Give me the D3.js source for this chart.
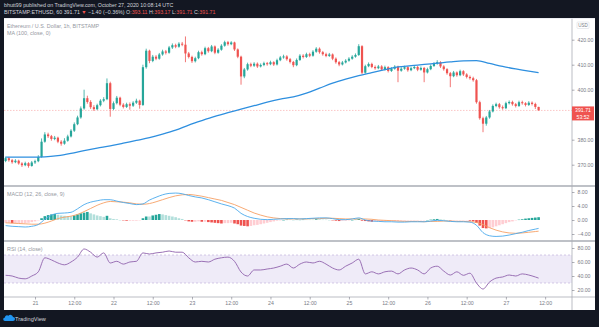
<!DOCTYPE html>
<html><head><meta charset="utf-8">
<script src="https://cdn.jsdelivr.net/npm/d3@7"></script>
<style>
html,body{margin:0;padding:0;background:#131722;}
svg{display:block;}
text{font-family:"Liberation Sans",Arial,sans-serif;}
</style></head><body>
<svg id="chart" width="599" height="327"></svg>
<script>
// ETH/USD, Bitstamp, 1h candles from 20 Oct 15:00 UTC to 27 Oct 10:00 UTC
const firstOpen = 371.5;
const closes = [
 372.6,371.8,371.0,371.6,370.5,369.8,370.6,369.5,370.9,371.4,
 373.1,379.2,382.1,381.4,380.3,380.8,379.2,378.4,379.6,381.3,
 383.6,386.2,388.9,392.5,396.6,395.1,393.0,392.2,393.8,395.6,
 396.2,402.6,392.3,394.6,396.8,394.0,393.1,394.2,393.6,394.8,
 395.6,393.9,409.0,415.6,411.5,413.2,412.4,414.1,415.3,414.8,
 416.9,417.8,417.2,418.4,418.0,414.5,413.1,411.4,412.6,415.0,
 414.2,416.6,415.4,417.3,414.8,416.0,417.6,419.0,418.2,418.9,
 416.1,413.2,405.3,408.1,410.2,409.6,410.4,409.3,409.9,410.6,
 410.2,411.0,410.1,411.8,412.9,413.3,412.2,411.1,409.8,411.9,
 413.6,413.1,414.2,413.6,415.2,416.4,415.0,414.2,413.5,414.1,
 412.4,411.0,410.1,410.9,411.6,412.4,413.2,413.9,417.4,406.8,
 409.4,410.3,409.1,408.6,409.3,408.1,409.0,407.5,408.4,409.2,
 407.6,408.4,409.0,407.8,408.6,409.1,408.0,408.7,406.9,408.2,
 409.5,410.4,411.0,409.3,408.2,406.6,405.4,406.9,405.8,407.4,
 406.1,405.1,404.6,403.8,395.0,388.6,386.4,388.9,391.3,393.5,
 394.2,393.0,392.6,394.6,395.1,394.2,393.5,395.0,394.6,393.9,
 394.8,394.3,393.11,391.71];
const highs = [
 373.2,373.1,372.3,372.2,372.0,371.0,371.2,371.0,371.5,372.0,
 373.8,380.5,383.0,382.8,381.9,381.5,381.2,379.8,380.6,382.0,
 384.2,386.9,389.6,393.3,400.0,397.6,395.8,393.8,394.4,396.2,
 397.0,404.5,403.2,395.3,397.5,397.2,394.6,394.8,394.9,395.4,
 396.4,396.0,410.0,416.4,416.0,413.9,413.8,414.7,416.0,415.9,
 417.5,418.5,418.4,419.0,419.1,421.3,415.1,413.6,413.2,415.6,
 415.6,417.2,417.1,417.9,417.7,416.6,418.2,419.6,419.5,419.4,
 419.2,416.5,413.6,408.7,410.8,410.8,411.0,410.9,410.5,411.2,
 411.1,411.6,411.4,412.4,413.5,414.0,413.8,412.7,411.5,412.5,
 414.2,414.2,414.8,414.8,415.8,417.0,416.9,415.5,414.8,414.7,
 414.5,412.9,411.5,411.5,412.2,413.0,413.8,414.5,418.2,417.8,
 410.0,410.9,410.8,409.7,409.9,409.8,409.6,409.4,409.0,409.8,
 409.6,409.0,409.6,409.4,409.2,409.7,409.5,409.3,409.1,408.8,
 410.1,411.0,411.8,411.4,409.8,408.6,407.1,407.5,407.3,408.0,
 407.8,406.6,405.7,405.2,404.3,395.6,389.2,389.5,391.9,394.1,
 394.8,394.7,393.7,395.2,395.7,395.6,394.7,395.6,395.6,395.0,
 395.4,395.3,394.8,393.17];
const lows = [
 371.0,371.2,370.4,370.6,370.0,369.1,369.4,368.8,369.2,370.3,
 371.0,372.8,378.8,380.7,379.6,379.8,378.6,377.6,378.0,379.2,
 380.9,383.1,385.8,388.4,392.0,394.4,392.3,391.5,391.8,393.3,
 395.0,395.8,389.2,391.8,394.1,393.4,392.5,392.7,392.0,393.1,
 394.3,392.4,393.5,408.4,410.6,411.0,411.8,412.0,413.6,414.1,
 414.4,416.3,416.6,416.8,417.4,411.0,412.5,410.7,410.9,412.2,
 413.6,413.8,414.8,415.0,414.2,414.4,415.6,417.2,417.6,417.8,
 415.5,412.6,402.0,404.6,407.6,409.0,409.1,408.7,408.9,409.4,
 409.6,409.8,409.5,409.7,411.4,412.4,411.6,410.5,409.0,409.4,
 411.5,412.5,412.7,413.0,413.2,414.8,414.4,413.6,413.0,413.1,
 411.8,410.4,409.4,409.7,410.5,411.2,412.0,412.8,413.5,406.2,
 406.4,409.0,408.6,408.0,408.2,407.6,407.7,406.9,407.1,408.0,
 403.0,407.2,408.0,407.2,407.4,408.2,407.4,407.6,403.0,406.5,
 407.8,409.1,410.0,408.7,407.6,406.0,401.0,405.0,405.2,405.4,
 405.5,404.5,404.0,403.2,394.4,388.0,383.0,385.6,388.4,390.9,
 393.0,392.4,392.0,392.2,394.1,393.6,392.9,393.1,394.0,393.3,
 393.5,393.7,392.3,391.71];

// MA(100) sampled every 4th candle, plus the last candle
const maValues = [373.0,373.0,373.0,373.1,373.6,374.5,375.6,376.6,377.5,378.6,
 379.7,380.8,382.2,383.8,385.8,387.6,389.3,390.8,392.2,393.6,
 395.0,396.2,397.1,398.6,400.6,402.6,404.2,405.6,406.8,408.0,
 409.1,409.6,410.1,410.6,411.1,411.5,411.6,410.5,409.3,408.3,
 407.4,406.8];

// MACD / signal / RSI sampled every 2nd candle, plus the last candle
const macdValues = [
 -1.6,-1.8,-1.9,-2.0,-1.8,-1.3,0.2,1.4,1.9,2.0,
 2.2,3.2,4.4,5.1,5.5,5.8,5.8,5.4,5.0,4.7,
 4.4,4.6,5.7,6.5,7.2,7.6,7.7,7.5,7.0,6.6,
 6.3,5.8,5.2,4.6,4.1,3.4,1.9,1.0,0.5,0.2,
 0.1,0.2,0.3,0.4,0.4,0.3,0.4,0.5,0.6,0.6,
 0.4,0.1,0.1,0.3,0.6,0.0,-0.3,-0.4,-0.5,-0.5,
 -0.6,-0.6,-0.5,-0.5,-0.5,-0.3,-0.1,-0.2,-0.4,-0.5,
 -0.5,-0.6,-1.5,-3.6,-4.5,-4.7,-4.6,-4.3,-3.9,-3.5,
 -3.0,-2.6,-2.4];
const signalValues = [
 -0.8,-0.9,-1.0,-1.1,-1.2,-1.2,-0.9,-0.3,0.4,0.8,
 1.1,1.6,2.4,3.3,4.2,4.9,5.3,5.2,5.1,4.9,
 4.6,4.5,4.7,5.2,5.8,6.4,6.9,7.2,7.3,7.1,
 6.8,6.4,6.0,5.6,5.0,4.4,3.6,2.8,2.0,1.4,
 0.9,0.6,0.4,0.3,0.3,0.3,0.3,0.4,0.4,0.5,
 0.5,0.4,0.3,0.3,0.3,0.3,0.2,0.0,-0.1,-0.2,
 -0.3,-0.4,-0.4,-0.4,-0.5,-0.4,-0.4,-0.3,-0.3,-0.4,
 -0.4,-0.5,-0.7,-1.3,-2.2,-2.9,-3.4,-3.7,-3.8,-3.7,
 -3.5,-3.3,-3.2];
const rsiValues = [
 41,40,37,36,40,46,66,63,58.6,56,
 60,67,78.6,74,67,73,58.6,61,57,60,
 61,73,71.4,73,74,75.7,74,74,66,60,
 61,60,64,66,67,61,45.7,40,48.6,48.6,
 50,51.4,54,57,51.4,57,60,58.6,61,57,
 51.4,48.6,54,58.6,64,43,46,43,46,47,
 43,48.6,51.4,48.6,43,51.4,54,47,41.4,46,
 41,44,30,21.4,31.4,37,38.6,41.4,40,43,
 41.4,38.6,37];

// MACD histogram, one bar per candle
const histValues = [
 -0.8,-0.8,-0.9,-0.9,-0.9,-0.9,-0.9,-0.8,-0.6,-0.4,
 -0.1,0.5,1.1,1.4,1.6,1.7,1.5,1.3,1.2,1.1,
 1.1,1.3,1.6,1.9,2.1,2.3,1.9,1.6,1.3,1.1,
 0.9,1.2,0.5,0.3,0.2,0.0,-0.1,-0.2,-0.2,-0.2,
 -0.2,-0.1,0.5,1.0,1.0,1.3,1.5,1.7,1.6,1.4,
 1.2,1.0,0.8,0.5,0.3,-0.1,-0.4,-0.5,-0.5,-0.4,
 -0.5,-0.5,-0.6,-0.7,-0.8,-0.9,-1.0,-0.9,-0.9,-0.8,
 -1.0,-1.2,-1.6,-1.7,-1.8,-1.7,-1.5,-1.4,-1.2,-1.0,
 -0.8,-0.6,-0.4,-0.2,-0.1,0.0,0.1,0.1,0.0,0.1,
 0.0,0.1,0.1,0.1,0.1,0.2,0.2,0.1,0.1,0.0,
 -0.1,-0.2,-0.3,-0.2,-0.2,-0.1,0.0,0.1,0.3,-0.2,
 -0.3,-0.4,-0.5,-0.4,-0.4,-0.4,-0.4,-0.3,-0.3,-0.3,
 -0.3,-0.2,-0.2,-0.1,-0.1,-0.1,-0.1,-0.1,-0.1,0.0,
 0.1,0.2,0.3,0.2,0.1,0.0,-0.1,-0.1,-0.1,-0.1,
 -0.1,-0.1,-0.2,-0.4,-0.8,-1.6,-2.3,-2.4,-2.3,-2.1,
 -1.8,-1.5,-1.2,-0.9,-0.6,-0.4,-0.1,0.1,0.2,0.4,
 0.5,0.6,0.7,0.8];

const priceTicks = [420, 410, 400, 390, 380, 370];
const macdTicks = [8, 4, 0, -4];
const rsiTicks = [80, 60, 40, 20];
const timeTickLabels = ["21","12:00","22","12:00","23","12:00","24","12:00","25","12:00","26","12:00","27","12:00"];
const countdown = "53:52";

// ---------- layout ----------
const W = 599, H = 327;
const L = 4, R = 572, RR = 595;
const mainTop = 18.5, mainBot = 186, macdBot = 241, rsiBot = 297, footTop = 310;
const UP = "#26a69a", DOWN = "#ef5350";
const AX = "#787b86";

const svg = d3.select("#chart");
svg.append("rect").attr("width", W).attr("height", H).attr("fill", "#131722");
svg.append("rect").attr("x", L).attr("y", mainTop - 0.5).attr("width", RR - L).attr("height", footTop - mainTop + 0.5).attr("fill", "#fff");

const t0 = Date.UTC(2020, 9, 20, 15);
const times = closes.map((c, i) => d3.utcHour.offset(new Date(t0), i));
const opens = closes.map((c, i) => i === 0 ? firstOpen : closes[i - 1]);
const last = closes.length - 1;

const x = d3.scaleUtc().domain([times[0], times[last]]).range([5.6, 538.6]);
const yP = d3.scaleLinear().domain([370, 420]).range([164.7, 39.7]);
const yM = d3.scaleLinear().domain([-4, 8]).range([234, 192]);
const yR = d3.scaleLinear().domain([20, 80]).range([290, 248]);

const defs = svg.append("defs");
function clip(id, y0, y1) {
  defs.append("clipPath").attr("id", id).append("rect")
    .attr("x", L).attr("y", y0).attr("width", R - L).attr("height", y1 - y0);
  return svg.append("g").attr("clip-path", `url(#${id})`);
}
const gMain = clip("cMain", mainTop, mainBot - 0.5);
const gMacd = clip("cMacd", mainBot + 0.5, macdBot - 0.5);
const gRsi = clip("cRsi", macdBot + 0.5, rsiBot);

// ---------- main pane ----------
const lastClose = closes[last];
gMain.append("line").attr("x1", L).attr("x2", R)
  .attr("y1", yP(lastClose)).attr("y2", yP(lastClose))
  .attr("stroke", DOWN).attr("stroke-opacity", 0.55).attr("stroke-width", 0.6).attr("stroke-dasharray", "1.5,1.5");

const candles = gMain.selectAll("g.c").data(closes.map((c, i) => ({
  t: times[i], o: opens[i], h: highs[i], l: lows[i], c
}))).join("g");
candles.append("line")
  .attr("x1", d => x(d.t)).attr("x2", d => x(d.t))
  .attr("y1", d => yP(d.h)).attr("y2", d => yP(d.l))
  .attr("stroke", d => d.c >= d.o ? UP : DOWN).attr("stroke-width", 0.8);
candles.append("rect")
  .attr("x", d => x(d.t) - 1.1).attr("width", 2.2)
  .attr("y", d => yP(Math.max(d.o, d.c)))
  .attr("height", d => Math.max(0.8, Math.abs(yP(d.o) - yP(d.c))))
  .attr("fill", d => d.c >= d.o ? UP : DOWN);

const maIdx = d3.range(0, last, 4).concat([last]);
gMain.append("path")
  .datum(maValues.map((v, k) => [times[maIdx[k]], v]))
  .attr("fill", "none").attr("stroke", "#2e8fdf").attr("stroke-width", 1.3)
  .attr("d", d3.line().x(d => x(d[0])).y(d => yP(d[1])).curve(d3.curveMonotoneX));

// ---------- MACD pane ----------
const histData = histValues.map((v, i) => ({ t: times[i], v, p: i ? histValues[i - 1] : v }));
gMacd.selectAll("rect.h").data(histData).join("rect")
  .attr("x", d => x(d.t) - 1.3).attr("width", 2.6)
  .attr("y", d => Math.min(yM(0), yM(d.v)))
  .attr("height", d => Math.max(0.4, Math.abs(yM(d.v) - yM(0))))
  .attr("fill", d => d.v >= 0 ? (d.v > d.p ? UP : "#b2dfdb") : (d.v < d.p ? DOWN : "#ffcdd2"));

const lineIdx = d3.range(0, last, 2).concat([last]);
const lineM = d3.line().x(d => x(d[0])).y(d => yM(d[1])).curve(d3.curveMonotoneX);
gMacd.append("path").datum(signalValues.map((v, k) => [times[lineIdx[k]], v]))
  .attr("fill", "none").attr("stroke", "#f6a065").attr("stroke-width", 0.9).attr("d", lineM);
gMacd.append("path").datum(macdValues.map((v, k) => [times[lineIdx[k]], v]))
  .attr("fill", "none").attr("stroke", "#4aa9ec").attr("stroke-width", 0.9).attr("d", lineM);

// ---------- RSI pane ----------
gRsi.append("rect").attr("x", L).attr("width", R - L)
  .attr("y", yR(70)).attr("height", yR(30) - yR(70)).attr("fill", "#7e57c2").attr("fill-opacity", 0.12);
[70, 30].forEach(v => gRsi.append("line").attr("x1", L).attr("x2", R).attr("y1", yR(v)).attr("y2", yR(v))
  .attr("stroke", "#b9a7d6").attr("stroke-width", 0.6).attr("stroke-dasharray", "2,2"));
gRsi.append("path").datum(rsiValues.map((v, k) => [times[lineIdx[k]], v]))
  .attr("fill", "none").attr("stroke", "#9062ad").attr("stroke-width", 0.9)
  .attr("d", d3.line().x(d => x(d[0])).y(d => yR(d[1])).curve(d3.curveMonotoneX));

// ---------- frame lines ----------
const frame = svg.append("g").attr("stroke", "#a9acb5");
frame.append("line").attr("x1", L).attr("x2", RR).attr("y1", mainBot).attr("y2", mainBot).attr("stroke-width", 1.4);
frame.append("line").attr("x1", L).attr("x2", RR).attr("y1", macdBot).attr("y2", macdBot).attr("stroke-width", 1.4);
frame.append("line").attr("x1", L).attr("x2", RR).attr("y1", rsiBot).attr("y2", rsiBot).attr("stroke-width", 0.8);
frame.append("line").attr("x1", R).attr("x2", R).attr("y1", mainTop).attr("y2", footTop).attr("stroke-width", 0.8);
frame.append("line").attr("x1", L).attr("x2", RR).attr("y1", mainTop).attr("y2", mainTop).attr("stroke", "#e0e3eb").attr("stroke-width", 0.6);

// ---------- right axes ----------
function rightAxis(scale, ticks, skip) {
  const g = svg.append("g").attr("transform", `translate(${R},0)`)
    .call(d3.axisRight(scale).tickValues(ticks.filter(t => !skip || !skip(t)))
      .tickFormat(d3.format(".2f")).tickSize(2.5).tickPadding(3));
  g.select(".domain").remove();
  g.selectAll("line").attr("stroke", AX).attr("stroke-width", 0.6);
  g.selectAll("text").attr("fill", AX).style("font-size", "5.2px").style("font-family", "Liberation Sans, Arial, sans-serif");
  return g;
}
rightAxis(yP, priceTicks, t => Math.abs(yP(t) - yP(lastClose)) < 8);
rightAxis(yM, macdTicks);
rightAxis(yR, rsiTicks);

// currency tag
svg.append("rect").attr("x", 577).attr("y", 22).attr("width", 12).attr("height", 6.5)
  .attr("fill", "#fff").attr("stroke", "#d1d4dc").attr("stroke-width", 0.5).attr("rx", 0.8);
svg.append("text").attr("x", 583).attr("y", 27).attr("text-anchor", "middle")
  .attr("fill", AX).style("font-size", "4.5px").text("USD");

// last price tag with countdown
const py = yP(lastClose);
svg.append("rect").attr("x", R).attr("y", py - 4).attr("width", RR - R - 1).attr("height", 14).attr("fill", DOWN);
svg.append("text").attr("x", R + 11).attr("y", py + 1.8).attr("text-anchor", "middle")
  .attr("fill", "#fff").style("font-size", "5.2px").text(d3.format(".2f")(lastClose));
svg.append("text").attr("x", R + 11).attr("y", py + 8.3).attr("text-anchor", "middle")
  .attr("fill", "#fff").style("font-size", "5.2px").text(countdown);

// ---------- time axis ----------
const tickTimes = timeTickLabels.map((s, k) => d3.utcHour.offset(new Date(Date.UTC(2020, 9, 21)), 12 * k));
const gx = svg.append("g").attr("transform", `translate(0,${rsiBot})`)
  .call(d3.axisBottom(x).tickValues(tickTimes).tickFormat((d, k) => timeTickLabels[k]).tickSize(2.5).tickPadding(2));
gx.select(".domain").remove();
gx.selectAll("line").attr("stroke", AX).attr("stroke-width", 0.6);
gx.selectAll("text").attr("fill", AX).style("font-size", "5.2px").style("font-family", "Liberation Sans, Arial, sans-serif");

// ---------- pane legends ----------
const legend = (y, s) => svg.append("text").attr("x", 7).attr("y", y).attr("fill", "#9598a1").style("font-size", "5.4px").text(s);
legend(27.5, "Ethereum / U.S. Dollar, 1h, BITSTAMP");
legend(35, "MA (100, close, 0)");
legend(196, "MACD (12, 26, close, 9)");
legend(251, "RSI (14, close)");

// ---------- header ----------
svg.append("text").attr("x", 4).attr("y", 7).attr("fill", "#d1d4dc").style("font-size", "5.3px")
  .text("bhutt99 published on TradingView.com, October 27, 2020 10:08:14 UTC");
const prevClose = closes[last - 1];
const chg = lastClose - prevClose;
const f2 = d3.format(".2f");
const hdr = svg.append("text").attr("x", 4).attr("y", 14).attr("fill", "#d1d4dc").style("font-size", "5.3px");
hdr.append("tspan").text(`BITSTAMP:ETHUSD, 60  ${f2(lastClose)} `);
hdr.append("tspan").attr("fill", DOWN).text("\u25BC");
hdr.append("tspan").text(` \u2212${f2(Math.abs(chg))} (\u2212${f2(Math.abs(chg / prevClose * 100))}%) O:`);
hdr.append("tspan").attr("fill", DOWN).text(f2(opens[last]));
hdr.append("tspan").text(" H:");
hdr.append("tspan").attr("fill", DOWN).text(f2(highs[last]));
hdr.append("tspan").text(" L:");
hdr.append("tspan").attr("fill", DOWN).text(f2(lows[last]));
hdr.append("tspan").text(" C:");
hdr.append("tspan").attr("fill", DOWN).text(f2(lastClose));

// ---------- footer ----------
svg.append("path")
  .attr("d", "M5,321 h8 a2,2 0 0 0 0,-4 a2.6,2.6 0 0 0 -4.6,-1.2 a2,2 0 0 0 -3.4,1.6 a1.8,1.8 0 0 0 0,3.6 z")
  .attr("fill", "#2196f3");
svg.append("text").attr("x", 15).attr("y", 321).attr("fill", "#d1d4dc").style("font-size", "5.6px").text("TradingView");
</script>
</body></html>
